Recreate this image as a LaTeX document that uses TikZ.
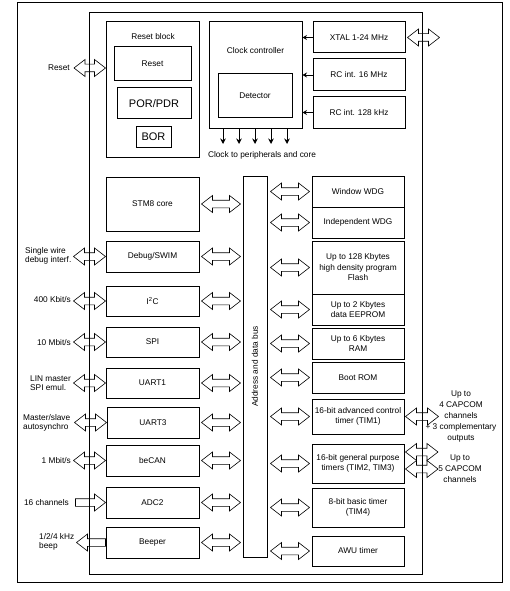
\documentclass[tikz,border=0pt]{standalone}
\usepackage{fontspec}
\setmainfont{Liberation Sans}
\usetikzlibrary{calc,arrows.meta}
\tikzset{
  blk/.style={draw, line width=1pt, align=center, inner sep=0pt, font=\fontsize{8.3}{10.5}\selectfont},
  big/.style={font=\fontsize{11}{13}\selectfont},
  lbl/.style={font=\fontsize{8.3}{8.8}\selectfont, inner sep=0pt},
  rlbl/.style={font=\fontsize{8.3}{11}\selectfont, inner sep=0pt, align=center},
  arr/.style={draw, line width=0.6pt, line join=miter},
  frame/.style={draw, line width=1pt},
  clkout/.style={line width=0.9pt, -{Stealth[length=5.5pt,width=5.5pt]}},
  clkin/.style={line width=0.9pt, -{Stealth[length=4.5pt,width=5pt]}},
}
\def\arhl{11pt}\def\arhh{8.5pt}\def\arsh{3.8pt}
% node from corners
\newcommand{\blk}[7][]{\node[blk,#1, minimum width={#4-(#2)}, minimum height={#5-(#3)}] (#6) at ({(#2+#4)/2},{(#3+#5)/2}) {#7};}
% hollow double arrow, left point first
\newcommand{\darrow}[2]{\draw[arr] let \p1=#1, \p2=#2 in
  (\x1,\y1) -- (\x1+\arhl,\y1+\arhh) -- (\x1+\arhl,\y1+\arsh) -- (\x2-\arhl,\y1+\arsh) -- (\x2-\arhl,\y1+\arhh) -- (\x2,\y1)
  -- (\x2-\arhl,\y1-\arhh) -- (\x2-\arhl,\y1-\arsh) -- (\x1+\arhl,\y1-\arsh) -- (\x1+\arhl,\y1-\arhh) -- cycle;}
% hollow arrow pointing right (tip at second point)
\newcommand{\rarrow}[2]{\draw[arr] let \p1=#1, \p2=#2 in
  (\x1,\y1+\arsh) -- (\x2-\arhl,\y1+\arsh) -- (\x2-\arhl,\y1+\arhh) -- (\x2,\y1) -- (\x2-\arhl,\y1-\arhh) -- (\x2-\arhl,\y1-\arsh) -- (\x1,\y1-\arsh) -- cycle;}
% hollow arrow pointing left (tip at first point)
\newcommand{\larrow}[2]{\draw[arr] let \p1=#1, \p2=#2 in
  (\x2,\y1+\arsh) -- (\x1+\arhl,\y1+\arsh) -- (\x1+\arhl,\y1+\arhh) -- (\x1,\y1) -- (\x1+\arhl,\y1-\arhh) -- (\x1+\arhl,\y1-\arsh) -- (\x2,\y1-\arsh) -- cycle;}
\begin{document}
\begin{tikzpicture}[x=1pt,y=-1pt]
\useasboundingbox (0,0) rectangle (509,591);
% frames
\draw[frame] (17,3) rectangle (502,582);
\draw[frame] (89,12.5) rectangle (422,574);

% reset block
\blk{106}{22}{199}{157}{rstblk}{}
\node[lbl] (rstlbl) at (153,37) {Reset block};
\blk{114}{47}{191}{81}{rst}{Reset}
\blk[big]{117}{88}{191}{119}{por}{POR/PDR}
\blk[big]{136}{126}{171}{147}{bor}{BOR}

% clock
\blk{209}{22}{302}{128}{clk}{}
\node[lbl] (clklbl) at (255.5,51) {Clock controller};
\blk{218}{74}{292}{118}{det}{Detector}
\blk{313}{22}{405}{53}{xtal}{XTAL 1-24 MHz}
\blk{313}{59}{405}{91}{rc16}{RC int. 16 MHz}
\blk{313}{97}{405}{128}{rc128}{RC int. 128 kHz}
\draw[clkin] (xtal.west) -- (xtal.west -| clk.east);
\draw[clkin] (rc16.west) -- (rc16.west -| clk.east);
\draw[clkin] (rc128.west) -- (rc128.west -| clk.east);
\foreach \cx in {223,239,255,271,287}
  \draw[clkout] (\cx,0 |- clk.south) -- ++(0,15.5);
\node[lbl] (clkperi) at (262,155) {Clock to peripherals and core};

% bus
\blk{243}{176}{267}{557}{bus}{}
\node[lbl, rotate=90] (buslbl) at (bus.center) {Address and data bus};

% left column
\blk{106}{177}{199}{231}{stm}{STM8 core}
\blk{106}{241}{199}{272}{dbg}{Debug/SWIM}
\blk{106}{286}{199}{316}{iic}{I\textsuperscript{2}C}
\blk{106}{327}{199}{357}{spi}{SPI}
\blk{106}{368}{199}{398}{uarta}{UART1}
\blk{107}{407}{199}{438}{uartc}{UART3}
\blk{106}{445}{199}{476}{can}{beCAN}
\blk{106}{487}{199}{518}{adc}{ADC2}
\blk{106}{527}{199}{558}{beep}{Beeper}

% right column
\blk{312}{176}{404}{207}{wwdg}{Window WDG}
\blk{312}{207}{404}{238}{iwdg}{Independent WDG}
\blk{312}{241}{404}{294}{flash}{Up to 128 Kbytes\\high density program\\Flash}
\blk{312}{294}{404}{325}{eeprom}{Up to 2 Kbytes\\data EEPROM}
\blk{312}{328}{404}{359}{ram}{Up to 6 Kbytes\\RAM}
\blk{312}{362}{404}{393}{brom}{Boot ROM}
\blk{312}{399}{404}{434}{timA}{16-bit advanced control\\timer (TIM1)}
\blk{312}{444}{404}{483}{timB}{16-bit general purpose\\timers (TIM2, TIM3)}
\blk{312}{488}{404}{527}{timC}{8-bit basic timer\\(TIM4)}
\blk{312}{536}{404}{566}{awu}{AWU timer}

% left blocks to bus
\foreach \bn in {stm,dbg,iic,spi,uarta,uartc,can,adc,beep}
  \darrow{([xshift=2pt]\bn.east)}{($(bus.west |- \bn.east)+(-2,0)$)};
% bus to right blocks
\foreach \bn in {wwdg,iwdg,flash,eeprom,ram,brom,timA,timB,timC,awu}
  \darrow{($(bus.east |- \bn.west)+(3,0)$)}{([xshift=-2pt]\bn.west)};

% external left connections
\coordinate (eRst) at (74,68);
\coordinate (iRst) at (rstblk.west |- eRst);
\darrow{(eRst)}{(iRst)}
\foreach \bn in {dbg,iic,spi,uarta,uartc,can}{
  \coordinate (e\bn) at ($(\bn.west)+(-32,0)$);
  \darrow{(e\bn)}{(\bn.west)};
}
\coordinate (eadc) at ($(adc.west)+(-30,0)$);
\rarrow{(eadc)}{(adc.west)}
\coordinate (ebeep) at ($(beep.west)+(-29,0)$);
\larrow{(ebeep)}{(beep.west)}

% external right connections
\coordinate (extal) at ($(xtal.east)+(34,0)$);
\darrow{([xshift=2pt]xtal.east)}{(extal)}
\coordinate (etimA) at ($(timA.east)+(34,0)$);
\darrow{([xshift=1pt]timA.east)}{(etimA)}
\coordinate (etimBa) at (438,452);
\coordinate (etimBb) at (438,469);
\darrow{($(timB.east |- etimBa)+(1,0)$)}{(etimBa)}
\darrow{($(timB.east |- etimBb)+(1,0)$)}{(etimBb)}

% labels left
\node[lbl, anchor=east] (lRst) at (70,68) {Reset};
\node[lbl, anchor=west, align=left] (lDbg) at (25,256) {Single wire\\debug interf.};
\node[lbl, anchor=east] (lIic) at (71,300) {400 Kbit/s};
\node[lbl, anchor=east] (lSpi) at (71,343) {10 Mbit/s};
\node[lbl, anchor=west, align=left] (lUa) at (30,383) {LIN master\\SPI emul.};
\node[lbl, anchor=west, align=left] (lUc) at (23,423) {Master/slave\\autosynchro};
\node[lbl, anchor=east] (lCan) at (71,461) {1 Mbit/s};
\node[lbl, anchor=east] (lAdc) at (69,503) {16 channels};
\node[lbl, anchor=west, align=left] (lBeep) at (39,542) {1/2/4 kHz\\beep};

% labels right
\node[rlbl] (lTimA) at (461,417) {Up to\\4 CAPCOM\\channels\\+ 3 complementary\\outputs};
\node[rlbl] (lTimB) at (460,469) {Up to\\5 CAPCOM\\channels};
\end{tikzpicture}
\end{document}
